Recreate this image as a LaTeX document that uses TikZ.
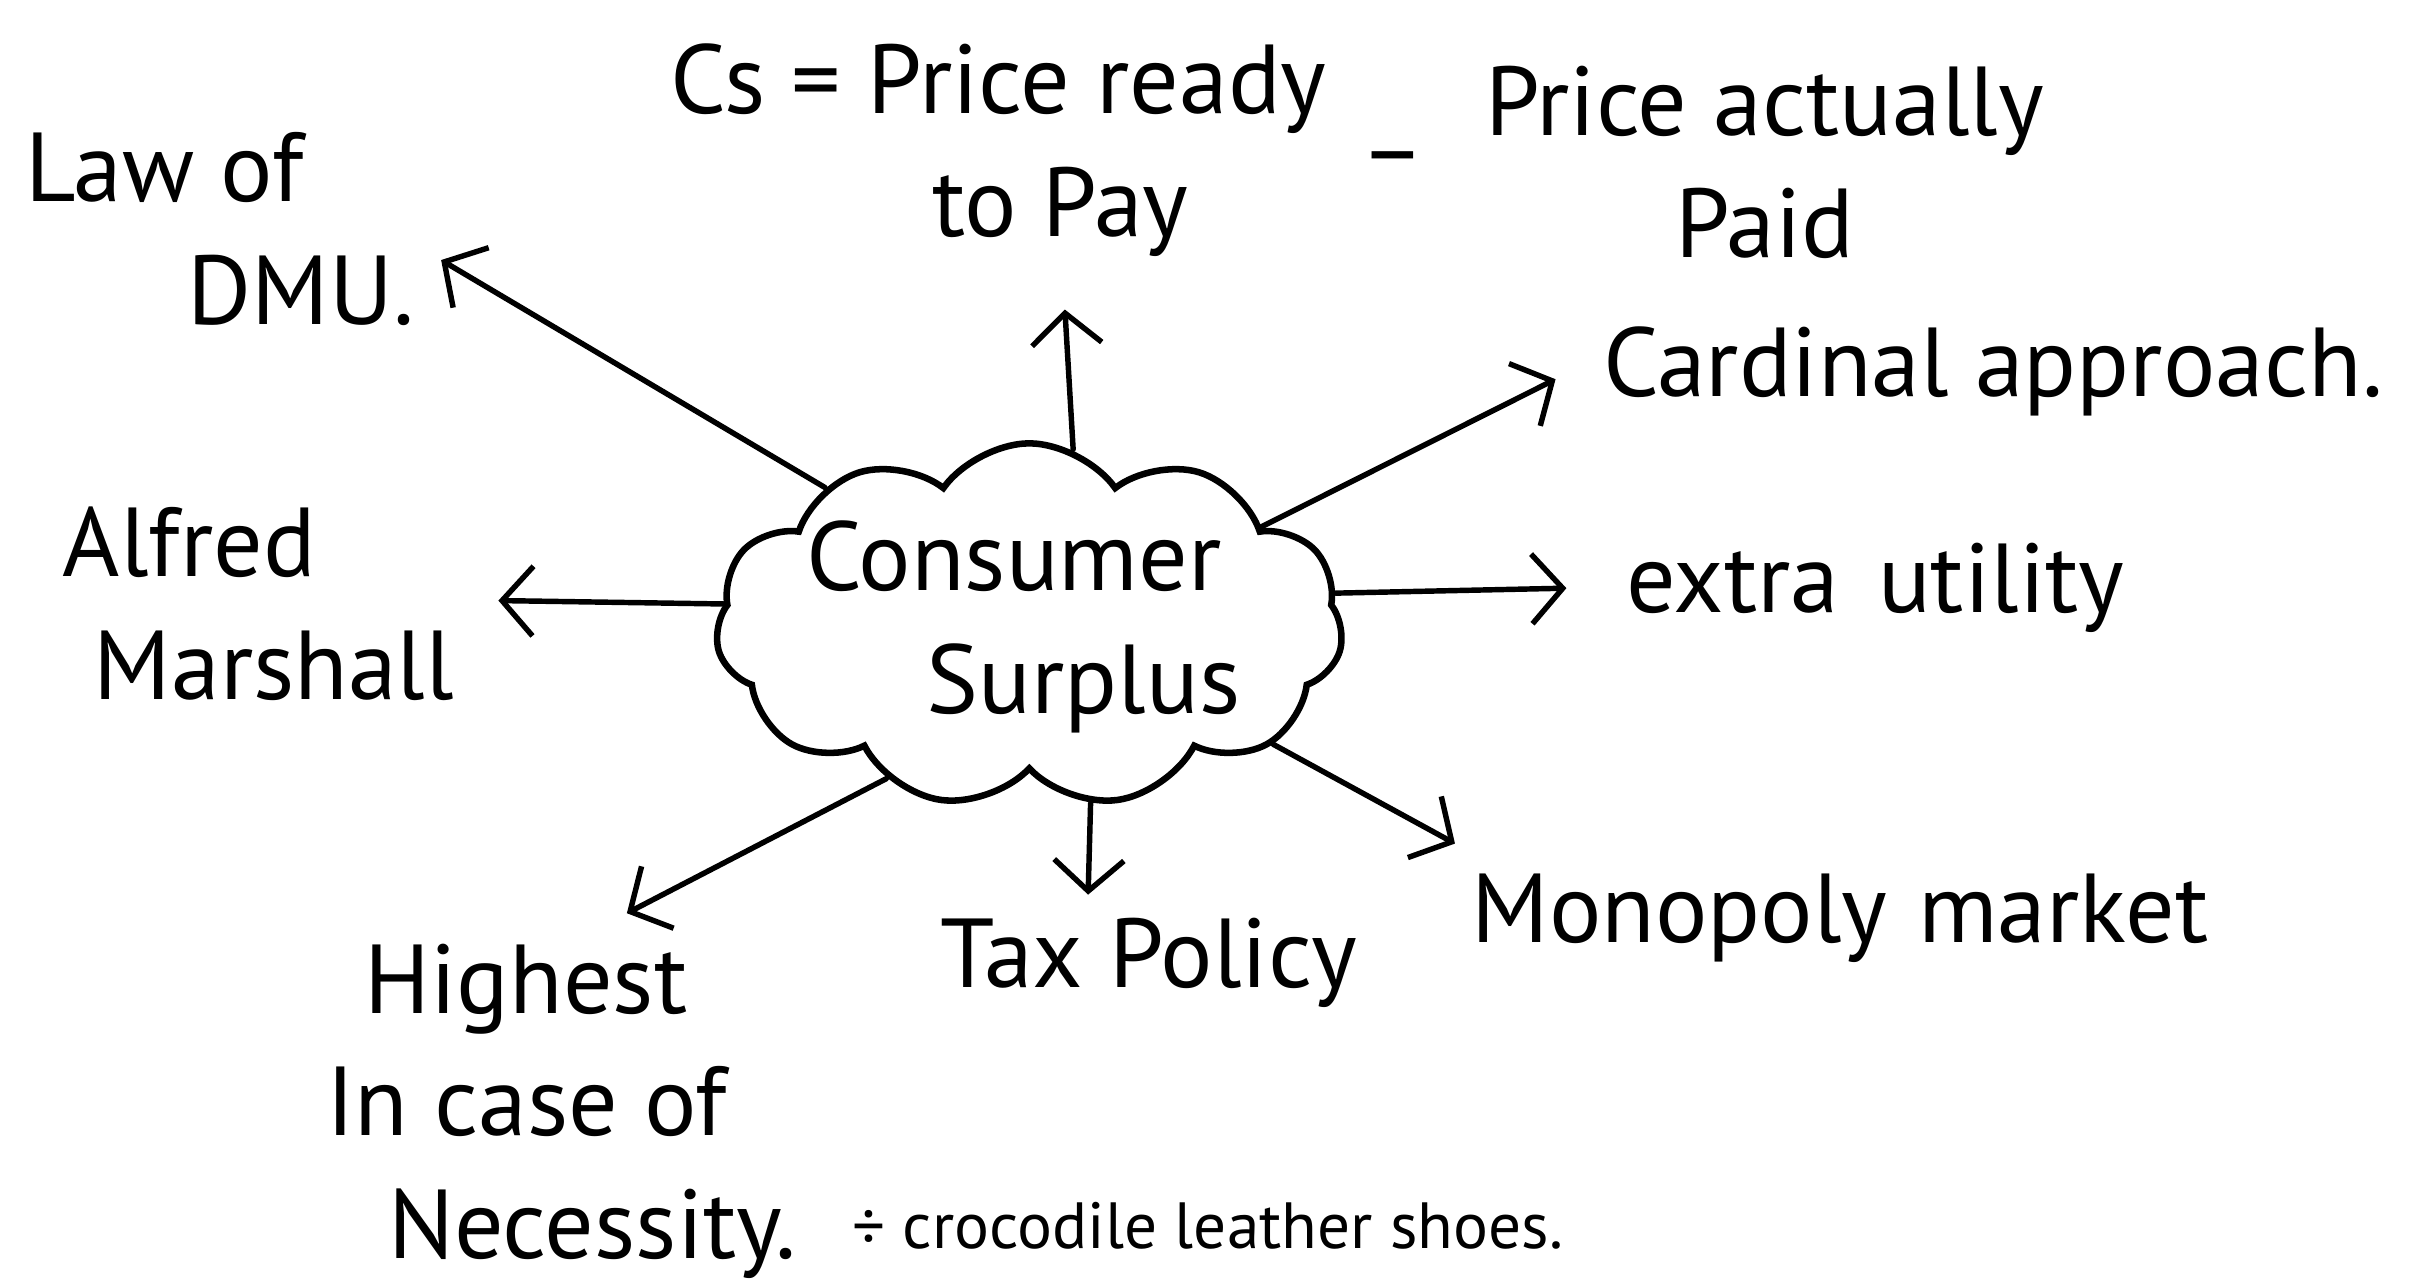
\documentclass[tikz,border=0pt]{standalone}
\usepackage{fontspec}
\setmainfont{PT Sans}
\usepackage{tikz}
\usetikzlibrary{positioning, arrows.meta, shapes.symbols}

\begin{document}
\begin{tikzpicture}[x=0.01cm, y=-0.01cm,
    hand/.style={font=\fontsize{18}{22.5}\selectfont, inner sep=0pt},
    arr/.style={-{Straight Barb[length=2mm, width=4.5mm]}, line width=1pt, line cap=round}]
  \useasboundingbox (0,0) rectangle (1568,830);

  % Centre
  \node[cloud, draw, line width=1.2pt, cloud puffs=11, cloud puff arc=110, cloud ignores aspect,
        minimum width=4.05cm, minimum height=2.35cm, inner sep=0pt] (cs) at (665,404) {};
  \node[hand, align=center] (cstext) at (655,405) {Consumer\\\hspace*{0.9cm}Surplus};

  % Arrow ends
  \coordinate (tDMU) at (285,168);
  \coordinate (tDef) at (688,200);
  \coordinate (tCard) at (1005,245);
  \coordinate (tAlf) at (322,388);
  \coordinate (tExtra) at (1012,380);
  \coordinate (tHigh) at (405,590);
  \coordinate (tTax) at (703,578);
  \coordinate (tMono) at (940,545);

  % Labels
  \node[hand, align=left] (dmu) at (142,148) {Law of\\\hspace*{1.05cm}DMU.};
  \node[hand, align=center] (csdef) at (645,97) {Cs = Price ready\\\hspace*{0.8cm}to Pay};
  \node[hand] (minus) at (900,108) {–};
  \node[hand, align=center] (paid) at (1140,105) {Price actually\\Paid};
  \node[hand, anchor=west] (card) at (1035,240) {Cardinal approach.};
  \node[hand, align=left, anchor=west] (alf) at (40,390) {Alfred\\\hspace*{0.2cm}Marshall};
  \node[hand, anchor=west] (extra) at (1050,380) {extra\hspace{0.25cm}utility};
  \node[hand, anchor=west] (mono) at (950,593) {Monopoly\hspace{0.2cm}market};
  \node[hand] (tax) at (742,622) {Tax Policy};
  \node[hand, align=left, anchor=west] (high) at (210,718)
        {\hspace*{0.25cm}Highest\\In case of\\\hspace*{0.4cm}Necessity.};
  \node[font=\fontsize{12}{14}\selectfont, inner sep=0pt, anchor=west] (shoes) at (550,792)
        {÷ crocodile leather shoes.};

  % Branches
  \draw[arr] (cs.146) -- (tDMU);
  \draw[arr] (cs.76) -- (tDef);
  \draw[arr] (cs.23) -- (tCard);
  \draw[arr] (cs.176) -- (tAlf);
  \draw[arr] (cs.6) -- (tExtra);
  \draw[arr] (cs.227) -- (tHigh);
  \draw[arr] (cs.289) -- (tTax);
  \draw[arr] (cs.334) -- (tMono);
\end{tikzpicture}
\end{document}
